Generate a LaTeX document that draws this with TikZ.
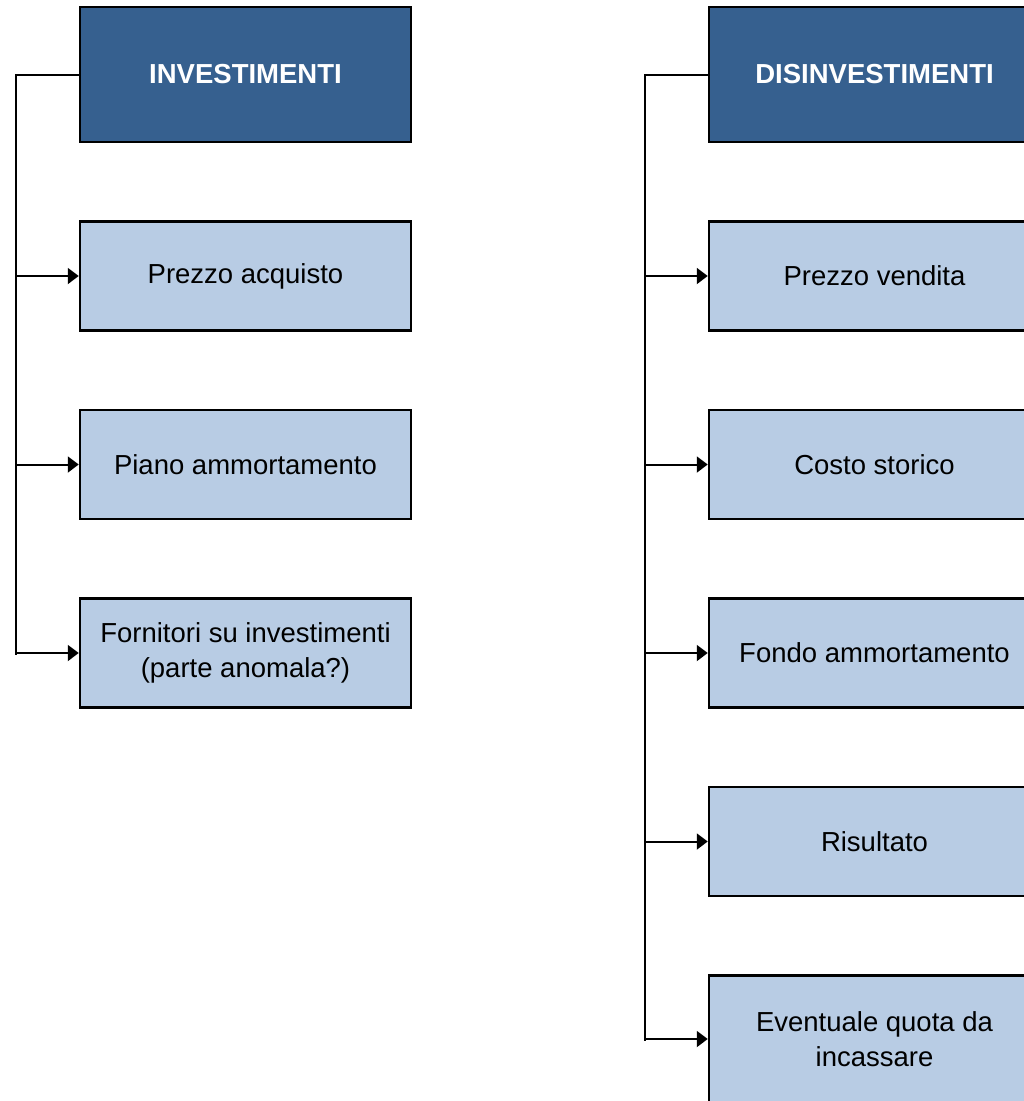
\documentclass[tikz,border=0pt]{standalone}
\usepackage{fontspec}
\setmainfont{Liberation Sans}
\usetikzlibrary{positioning,arrows.meta}
\definecolor{headblue}{RGB}{54,96,143}
\definecolor{itemblue}{RGB}{184,204,228}
\tikzset{
    headbox/.style={draw=black, line width=2.5pt, fill=headblue, text=white,
        font=\fontsize{27.5}{35}\selectfont\bfseries, minimum width=331pt,
        minimum height=135pt, inner sep=0pt, align=center},
    itembox/.style={draw=black, line width=2.5pt, fill=itemblue,
        font=\fontsize{27.5}{35}\selectfont, minimum width=331pt,
        minimum height=109pt, inner sep=0pt, align=center},
    link/.style={line width=2pt},
    feed/.style={link, -{Triangle[length=11pt,width=16pt]}}
}
\begin{document}
\begin{tikzpicture}[x=1pt, y=-1pt, node distance=77pt]
    \useasboundingbox (0,0) rectangle (1024,1101);
    \clip (0,0) rectangle (1024,1101);

    % Investimenti
    \node[headbox] (inv) at (245.5,74.5) {INVESTIMENTI};
    \node[itembox, below=of inv] (acq) {Prezzo acquisto};
    \node[itembox, below=of acq] (piano) {Piano ammortamento};
    \node[itembox, below=of piano] (forn) {Fornitori su investimenti\\(parte anomala?)};
    \draw[link] (inv.west) -- ++(-63,0) coordinate (invroot) -- ([yshift=-2pt]invroot |- forn.west);
    \foreach \n in {acq,piano,forn}
        \draw[feed] (invroot |- \n.west) -- (\n.west);

    % Disinvestimenti
    \node[headbox] (dis) at (874.5,74.5) {DISINVESTIMENTI};
    \node[itembox, below=of dis] (vend) {Prezzo vendita};
    \node[itembox, below=of vend] (costo) {Costo storico};
    \node[itembox, below=of costo] (fondo) {Fondo ammortamento};
    \node[itembox, below=of fondo] (ris) {Risultato};
    \node[itembox, below=of ris, minimum height=127pt] (quota) {Eventuale quota da\\incassare};
    \draw[link] (dis.west) -- ++(-63,0) coordinate (disroot) -- ([yshift=-2pt]disroot |- quota.west);
    \foreach \n in {vend,costo,fondo,ris,quota}
        \draw[feed] (disroot |- \n.west) -- (\n.west);
\end{tikzpicture}
\end{document}
